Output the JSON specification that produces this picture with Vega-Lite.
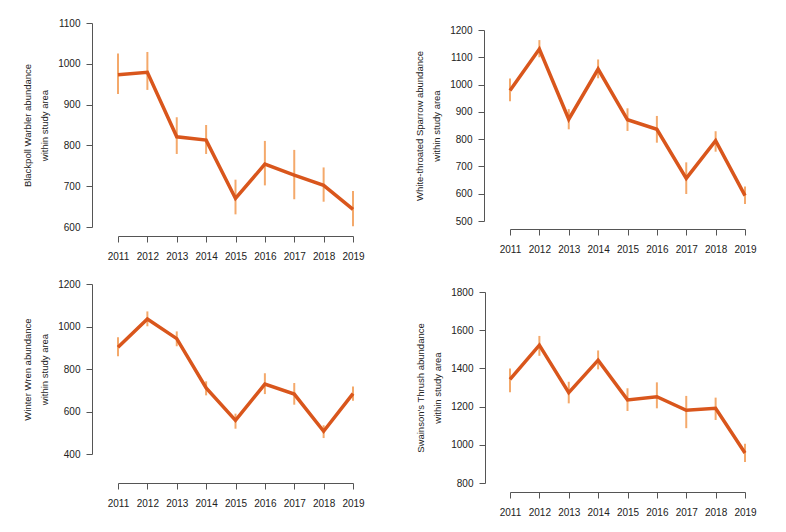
{
  "$schema": "https://vega.github.io/schema/vega-lite/v6.json",
  "background": "white",
  "padding": {"left": 22, "top": 18, "right": 5, "bottom": 5},
  "datasets": {
    "birds": [
      {"species": "Blackpoll Warbler", "year": 2011, "est": 973, "lo": 926, "hi": 1025},
      {"species": "Blackpoll Warbler", "year": 2012, "est": 979, "lo": 936, "hi": 1029},
      {"species": "Blackpoll Warbler", "year": 2013, "est": 821, "lo": 779, "hi": 869},
      {"species": "Blackpoll Warbler", "year": 2014, "est": 813, "lo": 779, "hi": 850},
      {"species": "Blackpoll Warbler", "year": 2015, "est": 670, "lo": 631, "hi": 716},
      {"species": "Blackpoll Warbler", "year": 2016, "est": 754, "lo": 702, "hi": 811},
      {"species": "Blackpoll Warbler", "year": 2017, "est": 727, "lo": 668, "hi": 789},
      {"species": "Blackpoll Warbler", "year": 2018, "est": 702, "lo": 662, "hi": 746},
      {"species": "Blackpoll Warbler", "year": 2019, "est": 643, "lo": 602, "hi": 688},
      {"species": "White-throated Sparrow", "year": 2011, "est": 978, "lo": 939, "hi": 1022},
      {"species": "White-throated Sparrow", "year": 2012, "est": 1130, "lo": 1100, "hi": 1163},
      {"species": "White-throated Sparrow", "year": 2013, "est": 873, "lo": 836, "hi": 910},
      {"species": "White-throated Sparrow", "year": 2014, "est": 1057, "lo": 1023, "hi": 1092},
      {"species": "White-throated Sparrow", "year": 2015, "est": 871, "lo": 830, "hi": 913},
      {"species": "White-throated Sparrow", "year": 2016, "est": 836, "lo": 787, "hi": 885},
      {"species": "White-throated Sparrow", "year": 2017, "est": 656, "lo": 599, "hi": 715},
      {"species": "White-throated Sparrow", "year": 2018, "est": 794, "lo": 754, "hi": 829},
      {"species": "White-throated Sparrow", "year": 2019, "est": 593, "lo": 562, "hi": 626},
      {"species": "Winter Wren", "year": 2011, "est": 902, "lo": 860, "hi": 949},
      {"species": "Winter Wren", "year": 2012, "est": 1035, "lo": 1001, "hi": 1071},
      {"species": "Winter Wren", "year": 2013, "est": 943, "lo": 907, "hi": 977},
      {"species": "Winter Wren", "year": 2014, "est": 711, "lo": 676, "hi": 742},
      {"species": "Winter Wren", "year": 2015, "est": 558, "lo": 519, "hi": 590},
      {"species": "Winter Wren", "year": 2016, "est": 729, "lo": 682, "hi": 780},
      {"species": "Winter Wren", "year": 2017, "est": 682, "lo": 632, "hi": 734},
      {"species": "Winter Wren", "year": 2018, "est": 507, "lo": 475, "hi": 535},
      {"species": "Winter Wren", "year": 2019, "est": 684, "lo": 651, "hi": 718},
      {"species": "Swainson's Thrush", "year": 2011, "est": 1343, "lo": 1275, "hi": 1400},
      {"species": "Swainson's Thrush", "year": 2012, "est": 1522, "lo": 1466, "hi": 1570},
      {"species": "Swainson's Thrush", "year": 2013, "est": 1273, "lo": 1217, "hi": 1330},
      {"species": "Swainson's Thrush", "year": 2014, "est": 1443, "lo": 1395, "hi": 1494},
      {"species": "Swainson's Thrush", "year": 2015, "est": 1235, "lo": 1177, "hi": 1296},
      {"species": "Swainson's Thrush", "year": 2016, "est": 1252, "lo": 1191, "hi": 1327},
      {"species": "Swainson's Thrush", "year": 2017, "est": 1181, "lo": 1087, "hi": 1256},
      {"species": "Swainson's Thrush", "year": 2018, "est": 1191, "lo": 1130, "hi": 1247},
      {"species": "Swainson's Thrush", "year": 2019, "est": 957, "lo": 910, "hi": 1005}
    ]
  },
  "config": {
    "view": {"stroke": null},
    "axis": {
      "grid": false,
      "domainColor": "#555555",
      "tickColor": "#555555",
      "labelColor": "#222222",
      "titleColor": "#222222",
      "labelFont": "Liberation Sans",
      "titleFont": "Liberation Sans",
      "labelFontSize": 10,
      "titleFontSize": 9.5,
      "titleFontWeight": "normal",
      "tickSize": 6,
      "labelFlush": false,
      "labelOverlap": false,
      "titleLineHeight": 17,
      "format": "d"
    },
    "axisX": {"labelPadding": 9},
    "axisY": {"labelPadding": 6, "titlePadding": 8}
  },
  "spacing": 49,
  "hconcat": [
    {
      "spacing": 18,
      "vconcat": [
        {
          "width": 235,
          "height": 204,
          "data": {"name": "birds"},
          "transform": [{"filter": "datum.species === 'Blackpoll Warbler'"}],
          "encoding": {
            "x": {"field": "year", "type": "quantitative", "scale": {"domain": [2011, 2019], "nice": false, "zero": false},
                  "axis": {"title": null, "values": [2011, 2012, 2013, 2014, 2015, 2016, 2017, 2018, 2019], "format": "d", "offset": 9}}
          },
          "layer": [
            {
              "mark": {"type": "rule", "color": "#F4A96B", "strokeWidth": 2},
              "encoding": {
                "y": {"field": "lo", "type": "quantitative", "scale": {"domain": [600, 1100], "nice": false, "zero": false},
                      "axis": {"title": ["Blackpoll Warbler abundance", "within study area"], "values": [600, 700, 800, 900, 1000, 1100], "format": "d", "offset": 26}},
                "y2": {"field": "hi"}
              }
            },
            {
              "mark": {"type": "line", "color": "#D9561C", "strokeWidth": 3.5},
              "encoding": {
                "y": {"field": "est", "type": "quantitative", "scale": {"domain": [600, 1100], "nice": false, "zero": false},
                      "axis": {"title": ["Blackpoll Warbler abundance", "within study area"], "values": [600, 700, 800, 900, 1000, 1100], "format": "d", "offset": 26}}
              }
            }
          ]
        },
        {
          "width": 235,
          "height": 170,
          "data": {"name": "birds"},
          "transform": [{"filter": "datum.species === 'Winter Wren'"}],
          "encoding": {
            "x": {"field": "year", "type": "quantitative", "scale": {"domain": [2011, 2019], "nice": false, "zero": false},
                  "axis": {"title": null, "values": [2011, 2012, 2013, 2014, 2015, 2016, 2017, 2018, 2019], "format": "d", "offset": 29}}
          },
          "layer": [
            {
              "mark": {"type": "rule", "color": "#F4A96B", "strokeWidth": 2},
              "encoding": {
                "y": {"field": "lo", "type": "quantitative", "scale": {"domain": [400, 1200], "nice": false, "zero": false},
                      "axis": {"title": ["Winter Wren abundance", "within study area"], "values": [400, 600, 800, 1000, 1200], "format": "d", "offset": 26}},
                "y2": {"field": "hi"}
              }
            },
            {
              "mark": {"type": "line", "color": "#D9561C", "strokeWidth": 3.5},
              "encoding": {
                "y": {"field": "est", "type": "quantitative", "scale": {"domain": [400, 1200], "nice": false, "zero": false},
                      "axis": {"title": ["Winter Wren abundance", "within study area"], "values": [400, 600, 800, 1000, 1200], "format": "d", "offset": 26}}
              }
            }
          ]
        }
      ]
    },
    {
      "spacing": 33,
      "vconcat": [
        {
          "spacing": 0,
          "vconcat": [
            {
              "width": 235,
              "height": 2,
              "data": {"values": []},
              "mark": "point"
            },
            {
              "width": 235,
              "height": 191,
              "data": {"name": "birds"},
              "transform": [{"filter": "datum.species === 'White-throated Sparrow'"}],
              "encoding": {
                "x": {"field": "year", "type": "quantitative", "scale": {"domain": [2011, 2019], "nice": false, "zero": false},
                      "axis": {"title": null, "values": [2011, 2012, 2013, 2014, 2015, 2016, 2017, 2018, 2019], "format": "d", "offset": 8}}
              },
              "layer": [
                {
                  "mark": {"type": "rule", "color": "#F4A96B", "strokeWidth": 2},
                  "encoding": {
                    "y": {"field": "lo", "type": "quantitative", "scale": {"domain": [500, 1200], "nice": false, "zero": false},
                          "axis": {"title": ["White-throated Sparrow abundance", "within study area"], "values": [500, 600, 700, 800, 900, 1000, 1100, 1200], "format": "d", "offset": 26}},
                    "y2": {"field": "hi"}
                  }
                },
                {
                  "mark": {"type": "line", "color": "#D9561C", "strokeWidth": 3.5},
                  "encoding": {
                    "y": {"field": "est", "type": "quantitative", "scale": {"domain": [500, 1200], "nice": false, "zero": false},
                          "axis": {"title": ["White-throated Sparrow abundance", "within study area"], "values": [500, 600, 700, 800, 900, 1000, 1100, 1200], "format": "d", "offset": 26}}
                  }
                }
              ]
            }
          ]
        },
        {
          "width": 235,
          "height": 191,
          "data": {"name": "birds"},
          "transform": [{"filter": "datum.species === \"Swainson's Thrush\""}],
          "encoding": {
            "x": {"field": "year", "type": "quantitative", "scale": {"domain": [2011, 2019], "nice": false, "zero": false},
                  "axis": {"title": null, "values": [2011, 2012, 2013, 2014, 2015, 2016, 2017, 2018, 2019], "format": "d", "offset": 9}}
          },
          "layer": [
            {
              "mark": {"type": "rule", "color": "#F4A96B", "strokeWidth": 2},
              "encoding": {
                "y": {"field": "lo", "type": "quantitative", "scale": {"domain": [800, 1800], "nice": false, "zero": false},
                      "axis": {"title": ["Swainson's Thrush abundance", "within study area"], "values": [800, 1000, 1200, 1400, 1600, 1800], "format": "d", "offset": 25}},
                "y2": {"field": "hi"}
              }
            },
            {
              "mark": {"type": "line", "color": "#D9561C", "strokeWidth": 3.5},
              "encoding": {
                "y": {"field": "est", "type": "quantitative", "scale": {"domain": [800, 1800], "nice": false, "zero": false},
                      "axis": {"title": ["Swainson's Thrush abundance", "within study area"], "values": [800, 1000, 1200, 1400, 1600, 1800], "format": "d", "offset": 25}}
              }
            }
          ]
        }
      ]
    }
  ]
}
